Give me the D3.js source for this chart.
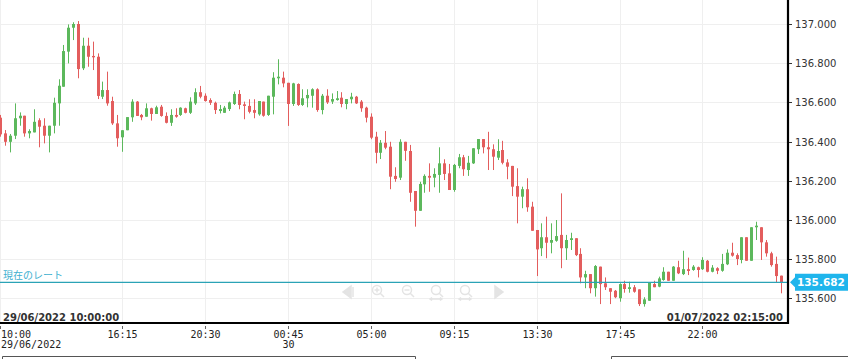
<!DOCTYPE html>
<html><head><meta charset="utf-8">
<script src="https://cdn.jsdelivr.net/npm/d3@7"></script>
<style>html,body{margin:0;padding:0;background:#fff;overflow:hidden}</style>
</head><body>
<svg id="c" width="848" height="359"></svg>
<script>
// 15-minute candles starting 29/06/2022 10:00
const startTime = "2022-06-29T10:00:00";
const open = [
136.522,136.442,136.399,136.430,136.519,136.532,136.442,136.447,136.509,136.481,
136.430,136.481,136.595,136.680,136.859,136.981,137.000,136.774,136.889,136.837,
136.833,136.629,136.663,136.607,136.493,136.422,136.458,136.524,136.604,136.536,
136.527,136.570,136.541,136.578,136.531,136.496,136.536,136.536,136.570,136.547,
136.595,136.652,136.634,136.612,136.598,136.556,136.547,136.566,136.592,136.643,
136.590,136.582,136.561,136.539,136.604,136.536,136.629,136.723,136.726,136.700,
136.592,136.694,136.587,136.621,136.634,136.667,136.561,136.634,136.604,136.612,
136.624,136.592,136.616,136.629,136.604,136.573,136.527,136.425,136.343,136.394,
136.374,136.225,136.216,136.399,136.352,136.148,136.047,136.182,136.225,136.216,
136.230,136.289,136.238,136.153,136.276,136.320,136.255,136.289,136.361,136.413,
136.371,136.361,136.318,136.357,136.294,136.276,136.173,136.119,136.157,136.068,
135.949,135.856,135.912,135.884,135.894,135.924,135.856,135.898,135.907,135.827,
135.707,135.724,135.652,135.762,135.677,135.652,135.639,135.601,135.673,135.648,
135.657,135.646,135.571,135.588,135.673,135.660,135.694,135.736,135.690,135.759,
135.724,135.749,135.745,135.759,135.749,135.792,135.736,135.754,135.741,135.774,
135.833,135.821,135.796,135.912,135.792,135.963,135.963,135.886,135.830,135.776,
135.716];
const high = [
136.536,136.459,136.439,136.595,136.549,136.532,136.463,136.565,136.519,136.519,
136.481,136.624,136.718,136.893,136.998,137.009,137.015,136.930,136.930,136.910,
136.850,136.706,136.757,136.629,136.536,136.458,136.525,136.616,136.607,136.541,
136.595,136.573,136.583,136.587,136.549,136.565,136.570,136.575,136.573,136.626,
136.672,136.684,136.646,136.621,136.604,136.587,136.582,136.604,136.655,136.663,
136.604,136.616,136.616,136.607,136.604,136.634,136.754,136.820,136.757,136.700,
136.700,136.697,136.667,136.667,136.672,136.672,136.643,136.667,136.646,136.658,
136.652,136.617,136.649,136.633,136.612,136.578,136.544,136.450,136.408,136.454,
136.399,136.269,136.412,136.399,136.383,136.148,136.195,136.233,136.289,136.264,
136.371,136.310,136.286,136.286,136.337,136.332,136.327,136.366,136.413,136.413,
136.450,136.386,136.412,136.404,136.310,136.276,136.264,136.170,136.213,136.093,
135.949,135.983,136.017,135.983,136.000,136.136,135.924,135.935,135.907,135.856,
135.741,135.724,135.770,135.762,135.707,135.652,135.643,135.677,135.690,135.685,
135.668,135.646,135.606,135.680,135.690,135.711,135.759,135.736,135.765,135.792,
135.843,135.808,135.770,135.762,135.810,135.796,135.770,135.759,135.827,135.850,
135.884,135.830,135.912,135.912,135.963,135.991,135.963,135.898,135.838,135.813,
135.716];
const low = [
136.425,136.379,136.345,136.413,136.481,136.425,136.417,136.447,136.371,136.391,
136.345,136.442,136.481,136.680,136.799,136.918,136.723,136.765,136.782,136.765,
136.617,136.617,136.583,136.485,136.374,136.348,136.458,136.501,136.531,136.509,
136.527,136.507,136.541,136.527,136.493,136.480,136.522,136.531,136.544,136.541,
136.587,136.621,136.604,136.587,136.541,136.544,136.547,136.556,136.587,136.565,
136.514,136.544,136.519,136.532,136.527,136.531,136.539,136.692,136.677,136.480,
136.582,136.582,136.582,136.575,136.573,136.552,136.539,136.592,136.592,136.609,
136.575,136.565,136.595,136.592,136.552,136.498,136.412,136.289,136.311,136.361,
136.157,136.195,136.204,136.302,136.093,135.966,136.047,136.139,136.144,136.167,
136.139,136.204,136.153,136.144,136.264,136.225,136.225,136.286,136.337,136.340,
136.255,136.255,136.306,136.284,136.208,136.122,135.983,136.060,136.042,135.945,
135.714,135.816,135.805,135.830,135.889,135.754,135.796,135.847,135.816,135.677,
135.652,135.626,135.609,135.571,135.643,135.571,135.601,135.583,135.629,135.629,
135.629,135.561,135.558,135.588,135.657,135.657,135.690,135.690,135.690,135.724,
135.719,135.719,135.741,135.707,135.745,135.733,135.733,135.724,135.736,135.770,
135.813,135.770,135.779,135.792,135.792,135.898,135.796,135.813,135.762,135.680,
135.626];
const close = [
136.437,136.399,136.430,136.519,136.532,136.442,136.454,136.501,136.476,136.430,
136.481,136.598,136.685,136.862,136.981,137.000,136.770,136.889,136.833,136.830,
136.633,136.663,136.595,136.493,136.417,136.458,136.525,136.604,136.531,136.524,
136.570,136.541,136.575,136.531,136.496,136.536,136.527,136.573,136.547,136.604,
136.652,136.629,136.607,136.598,136.561,136.566,136.573,136.600,136.643,136.587,
136.582,136.552,136.547,136.607,136.532,136.634,136.726,136.731,136.697,136.592,
136.697,136.587,136.621,136.638,136.667,136.561,136.634,136.600,136.617,136.621,
136.592,136.617,136.629,136.595,136.570,136.522,136.420,136.343,136.394,136.369,
136.221,136.209,136.399,136.353,136.139,136.047,136.184,136.225,136.216,136.235,
136.289,136.235,136.153,136.281,136.320,136.259,136.292,136.366,136.413,136.371,
136.361,136.323,136.352,136.292,136.272,136.170,136.119,136.157,136.065,135.945,
135.850,135.912,135.884,135.898,135.918,135.856,135.898,135.907,135.821,135.707,
135.724,135.652,135.765,135.673,135.657,135.634,135.606,135.673,135.648,135.657,
135.634,135.571,135.595,135.680,135.657,135.702,135.736,135.690,135.762,135.728,
135.749,135.740,135.762,135.745,135.796,135.736,135.757,135.741,135.776,135.833,
135.818,135.801,135.912,135.792,135.963,135.971,135.886,135.830,135.770,135.714,
135.682];
const currentRate = 135.682;
const currentLabel = "現在のレート";
const yTicks = [135.6, 135.8, 136.0, 136.2, 136.4, 136.6, 136.8, 137.0];
const xTickTimes = ["2022-06-29T10:00","2022-06-29T16:15","2022-06-29T20:30","2022-06-30T00:45","2022-06-30T05:00","2022-06-30T09:15","2022-06-30T13:30","2022-06-30T17:45","2022-06-30T22:00"];
const xTickSub = {"2022-06-29T10:00":"29/06/2022","2022-06-30T00:45":"30"};
const startLabel = "29/06/2022 10:00:00";
const endLabel = "01/07/2022 02:15:00";

const svg = d3.select("#c");
const plotR = 788, plotB = 323;

const t0 = new Date(startTime);
const times = open.map((_, i) => new Date(t0.getTime() + i * 15 * 60000));
const data = times.map((t, i) => ({t, o: open[i], h: high[i], l: low[i], c: close[i]}));

const x = d3.scaleTime().domain([times[0], times[times.length - 1]]).range([0, 780.5]);
const y = d3.scaleLinear().domain([135.6, 137.0]).range([298.4, 24]);

const grid = svg.append("g");
grid.selectAll("line.h").data(yTicks).join("line")
  .attr("x1", 0).attr("x2", plotR).attr("y1", d => Math.round(y(d)) + 0.5).attr("y2", d => Math.round(y(d)) + 0.5)
  .attr("stroke", "#efefef").attr("stroke-width", 1);
const xt = xTickTimes.map(s => new Date(s));
grid.selectAll("line.v").data(xt).join("line")
  .attr("x1", d => Math.round(x(d)) + 0.5).attr("x2", d => Math.round(x(d)) + 0.5)
  .attr("y1", 0).attr("y2", plotB)
  .attr("stroke", "#efefef").attr("stroke-width", 1);

// faint navigation controls
const nav = svg.append("g").attr("fill", "none").attr("stroke", "#e4e4e4").attr("stroke-width", 1.5);
nav.append("path").attr("d", "M351,286 L343,292 L351,298 Z").attr("fill", "#e4e4e4");
nav.append("line").attr("x1", 353).attr("x2", 353).attr("y1", 287).attr("y2", 297);
[[377, "+"], [407, "-"], [436, "a"], [465, "b"]].forEach(([cx, s]) => {
  nav.append("circle").attr("cx", cx).attr("cy", 290).attr("r", 4.5);
  nav.append("line").attr("x1", cx + 3.2).attr("y1", 293.2).attr("x2", cx + 7).attr("y2", 297);
  if (s === "+") nav.append("path").attr("d", `M${cx-2.5},290 H${cx+2.5} M${cx},287.5 V292.5`);
  if (s === "-") nav.append("path").attr("d", `M${cx-2.5},290 H${cx+2.5}`);
  if (s === "a" || s === "b") nav.append("path").attr("d", `M${cx-6},299 H${cx+6} M${cx-4},297.5 L${cx-6},299 L${cx-4},300.5 M${cx+4},297.5 L${cx+6},299 L${cx+4},300.5`);
});
nav.append("path").attr("d", "M495,286 L503,292 L495,298 Z").attr("fill", "#e4e4e4");

// candles
const up = "#5cb85c", dn = "#e35d5d";
const cg = svg.append("g");
cg.selectAll("line.w").data(data).join("line")
  .attr("x1", d => Math.round(x(d.t)) + 0.5).attr("x2", d => Math.round(x(d.t)) + 0.5)
  .attr("y1", d => y(d.h)).attr("y2", d => y(d.l))
  .attr("stroke", d => d.c >= d.o ? up : dn).attr("stroke-width", 1);
cg.selectAll("rect.b").data(data).join("rect")
  .attr("x", d => Math.round(x(d.t)) - 1).attr("width", 3)
  .attr("y", d => y(Math.max(d.o, d.c)))
  .attr("height", d => Math.max(1.2, Math.abs(y(d.o) - y(d.c))))
  .attr("fill", d => d.c >= d.o ? up : dn);

// current rate line
const yr = y(currentRate);
svg.append("line").attr("x1", 0).attr("x2", plotR).attr("y1", yr).attr("y2", yr)
  .attr("stroke", "#2ba3b6").attr("stroke-width", 1.2);
svg.append("text").attr("x", 3).attr("y", yr - 3.5).text(currentLabel)
  .attr("font-family", "'Noto Sans CJK JP', sans-serif").attr("font-size", 10).attr("fill", "#3db0cf");

// frame
svg.append("line").attr("x1", 0).attr("x2", plotR + 1).attr("y1", plotB).attr("y2", plotB).attr("stroke", "#000").attr("stroke-width", 2.2);
svg.append("line").attr("x1", plotR).attr("x2", plotR).attr("y1", 0).attr("y2", plotB + 1).attr("stroke", "#000").attr("stroke-width", 2.2);

// y axis
const ya = svg.append("g");
yTicks.forEach(v => {
  const yy = Math.round(y(v)) + 0.5;
  ya.append("line").attr("x1", plotR + 1).attr("x2", plotR + 4).attr("y1", yy).attr("y2", yy).attr("stroke", "#333");
  ya.append("text").attr("x", 795).attr("y", yy).attr("dy", "0.35em").text(d3.format(".3f")(v))
    .attr("font-family", "'DejaVu Sans', Verdana, sans-serif").attr("font-size", 10).attr("fill", "#333");
});
// current rate box
svg.append("path").attr("d", `M790,${yr} L795,${yr-5} L795,${yr-8.5} L848,${yr-8.5} L848,${yr+8.5} L795,${yr+8.5} L795,${yr+5} Z`).attr("fill", "#1fb5ec");
svg.append("text").attr("x", 797).attr("y", yr).attr("dy", "0.37em").text(d3.format(".3f")(currentRate))
  .attr("font-family", "'DejaVu Sans', sans-serif").attr("font-weight", "bold").attr("font-size", 10.5).attr("fill", "#fff");

// x axis
const xa = svg.append("g").attr("font-family", "'DejaVu Sans Mono', monospace").attr("font-size", 10).attr("fill", "#222");
xt.forEach((d, k) => {
  const xx = Math.round(x(d)) + 0.5;
  xa.append("line").attr("x1", xx).attr("x2", xx).attr("y1", plotB + 3).attr("y2", plotB + 6).attr("stroke", "#666");
  const anchor = k === 0 ? "start" : "middle";
  const tx = k === 0 ? 1 : xx;
  xa.append("text").attr("x", tx).attr("y", 338).attr("text-anchor", anchor).text(d3.timeFormat("%H:%M")(d));
  const sub = xTickSub[xTickTimes[k]];
  if (sub) xa.append("text").attr("x", tx).attr("y", 348).attr("text-anchor", anchor).text(sub);
});

// start/end labels
svg.append("text").attr("x", 3).attr("y", 321).text(startLabel)
  .attr("font-family", "'DejaVu Sans', sans-serif").attr("font-weight", "bold").attr("font-size", 10).attr("fill", "#333");
svg.append("text").attr("x", 783).attr("y", 321).attr("text-anchor", "end").text(endLabel)
  .attr("font-family", "'DejaVu Sans', sans-serif").attr("font-weight", "bold").attr("font-size", 10).attr("fill", "#333");

// bottom scrollbar boxes
svg.append("path").attr("d", "M2.5,362 V356.5 H415.5 V362").attr("fill", "none").attr("stroke", "#555");
svg.append("path").attr("d", "M611.5,362 V356.5 H850").attr("fill", "none").attr("stroke", "#555");
</script>
</body></html>
